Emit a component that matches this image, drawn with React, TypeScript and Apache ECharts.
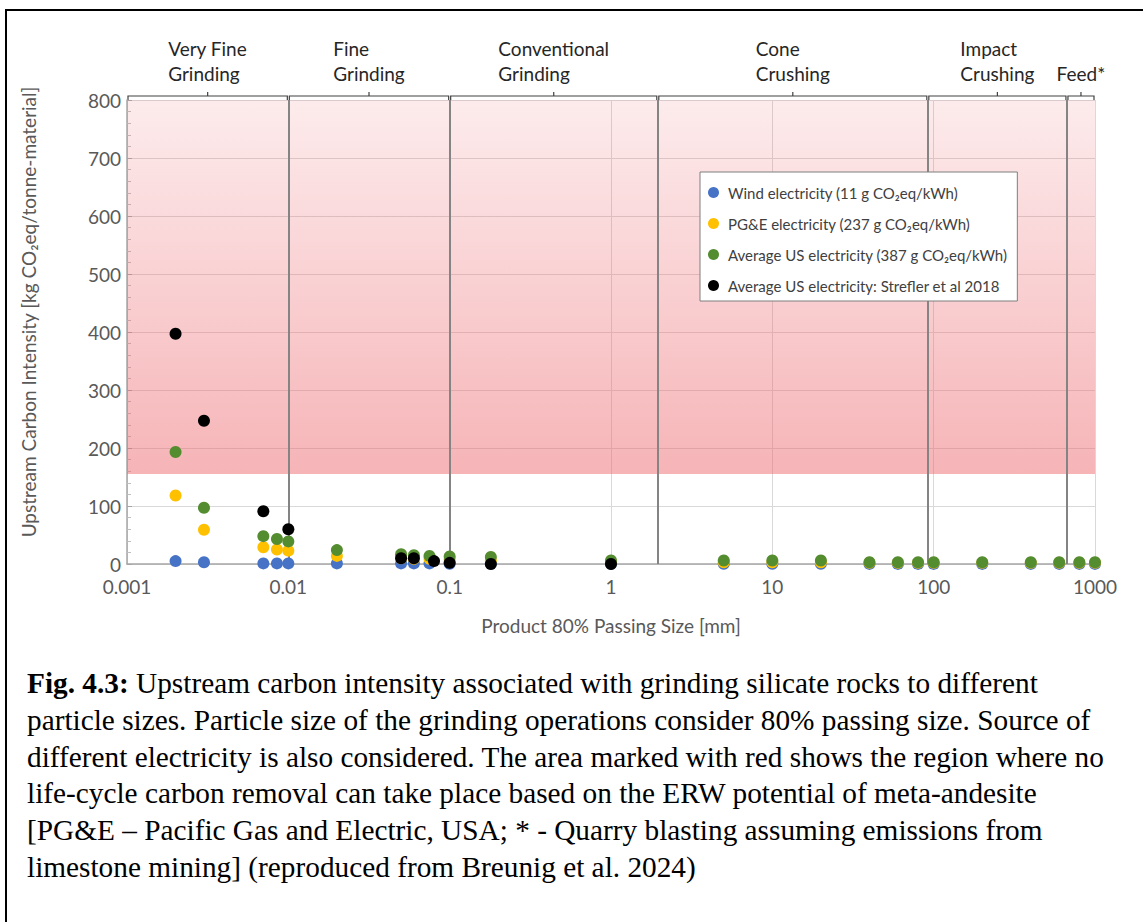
import React, { useEffect, useRef } from "react";
import * as echarts from "echarts";

// Product 80% passing size [mm] for the three electricity scenarios
const sizeMm = [0.002, 0.003, 0.007, 0.0085, 0.01, 0.02, 0.05, 0.06, 0.075, 0.1, 0.18, 1, 5, 10, 20, 40, 60, 80, 100, 200, 400, 600, 800, 1000];
// Upstream carbon intensity [kg CO2eq / tonne material]
const windIntensity = [5, 3, 1, 1, 1, 1, 1, 1, 1, 0.5, 0.5, 0.3, 0.3, 0.3, 0.3, 0.2, 0.2, 0.2, 0.2, 0.2, 0.2, 0.2, 0.2, 0.2];
const pgeIntensity = [118, 59, 29, 25, 23, 14, 10, 9, 9, 8, 6, 3, 3, 3, 3, 2, 2, 2, 2, 2, 2, 2, 2, 2];
const usAvgIntensity = [193, 97, 48, 43, 39, 24, 17, 15, 14, 13, 12, 6, 6, 6, 6, 3, 3, 3, 3, 3, 3, 3, 3, 3];
const streflerSizeMm = [0.002, 0.003, 0.007, 0.01, 0.05, 0.06, 0.08, 0.1, 0.18, 1];
const streflerIntensity = [397, 247, 91, 60, 10, 10, 5, 2, 0, 0];

// Comminution stages along the size axis
const stageBounds = [0.001, 0.01, 0.1, 1.95, 92, 670, 1000];
const stageLabels = [
  ["Very Fine", "Grinding"],
  ["Fine", "Grinding"],
  ["Conventional", "Grinding"],
  ["Cone", "Crushing"],
  ["Impact", "Crushing"],
  ["", "Feed*"],
];

const xMin = 0.001;
const xMax = 1000;
const yMax = 800;
const yStep = 100;
// Above this intensity no life-cycle carbon removal is possible
const noRemovalFloor = 155;

const seriesNames = [
  "Wind electricity (11 g CO₂eq/kWh)",
  "PG&E electricity (237 g CO₂eq/kWh)",
  "Average US electricity (387 g CO₂eq/kWh)",
  "Average US electricity: Strefler et al 2018",
];
const seriesColors = ["#4673c5", "#ffc000", "#548c30", "#000000"];

const SANS = "Lato, 'Noto Sans', sans-serif";
const GREY_TEXT = "#595959";
const AXIS_FONT_SIZE = 19;

const captionLines = [
  "Upstream carbon intensity associated with grinding silicate rocks to different",
  "particle sizes. Particle size of the grinding operations consider 80% passing size. Source of",
  "different electricity is also considered. The area marked with red shows the region where no",
  "life-cycle carbon removal can take place based on the ERW potential of meta-andesite",
  "[PG&E – Pacific Gas and Electric, USA; * - Quarry blasting assuming emissions from",
  "limestone mining] (reproduced from Breunig et al. 2024)",
];

function pairs(xs: number[], ys: number[]) {
  return xs.map((x, i) => [x, ys[i]]);
}

function textWidth(text: string, font: string) {
  const ctx = document.createElement("canvas").getContext("2d");
  if (!ctx) return text.length * 8;
  ctx.font = font;
  return ctx.measureText(text).width;
}

function ChartView() {
  const ref = useRef<HTMLDivElement>(null);

  useEffect(() => {
    if (!ref.current) return;
    const chart = echarts.init(ref.current, undefined, { renderer: "svg" });

    const scatter = (name: string, color: string, data: number[][]) => ({
      name,
      type: "scatter",
      z: 5,
      symbol: "circle",
      symbolSize: 12,
      itemStyle: { color, opacity: 1 },
      data,
    });

    chart.setOption({
      animation: false,
      textStyle: { fontFamily: SANS },
      grid: { left: 127, right: 48, top: 100, height: 464 },
      legend: {
        z: 20,
        data: seriesNames,
        orient: "vertical",
        left: 700,
        top: 172,
        padding: [12, 10, 7, 8],
        itemGap: 14,
        itemWidth: 11,
        itemHeight: 11,
        icon: "circle",
        backgroundColor: "#ffffff",
        borderColor: "#7f7f7f",
        borderWidth: 1,
        borderRadius: 0,
        textStyle: { fontFamily: SANS, fontSize: 15, color: "#404040", lineHeight: 17, padding: [0, 0, 0, 4] },
      },
      xAxis: {
        type: "log",
        logBase: 10,
        min: xMin,
        max: xMax,
        name: "Product 80% Passing Size [mm]",
        nameLocation: "middle",
        nameGap: 52,
        nameTextStyle: { fontFamily: SANS, fontSize: AXIS_FONT_SIZE, color: GREY_TEXT },
        axisLine: { lineStyle: { color: "#a6a6a6", width: 1.5 } },
        axisTick: { show: false },
        axisLabel: {
          fontFamily: SANS,
          fontSize: AXIS_FONT_SIZE,
          color: GREY_TEXT,
          margin: 13,
          formatter: (v: number) => String(+Number(v).toPrecision(6)),
        },
        splitLine: { show: true, lineStyle: { color: "#d9d9d9", width: 1 } },
      },
      yAxis: {
        type: "value",
        min: 0,
        max: yMax,
        interval: yStep,
        axisLine: { show: true, lineStyle: { color: "#a6a6a6", width: 1.5 } },
        axisTick: { show: true, inside: true, length: 5, lineStyle: { color: "#a6a6a6" } },
        minorTick: { show: true, splitNumber: 5, length: 4, lineStyle: { color: "#bfbfbf" } },
        axisLabel: { fontFamily: SANS, fontSize: AXIS_FONT_SIZE, color: GREY_TEXT, margin: 6 },
        splitLine: { show: true, lineStyle: { color: "#d9d9d9", width: 1 } },
      },
      series: [
        {
          name: "stages",
          type: "scatter",
          z: 1,
          silent: true,
          data: [],
          markArea: {
            silent: true,
            itemStyle: {
              color: {
                type: "linear",
                x: 0,
                y: 0,
                x2: 0,
                y2: 1,
                colorStops: [
                  { offset: 0, color: "rgba(237,105,111,0.13)" },
                  { offset: 1, color: "rgba(237,105,111,0.5)" },
                ],
              },
            },
            data: [[{ xAxis: xMin, yAxis: noRemovalFloor }, { xAxis: xMax, yAxis: yMax }]],
          },
          markLine: {
            silent: true,
            symbol: "none",
            label: { show: false },
            lineStyle: { color: "#848484", width: 2, type: "solid" },
            data: stageBounds.slice(1, -1).map((b) => ({ xAxis: b })),
          },
        },
        scatter(seriesNames[0], seriesColors[0], pairs(sizeMm, windIntensity)),
        scatter(seriesNames[1], seriesColors[1], pairs(sizeMm, pgeIntensity)),
        scatter(seriesNames[2], seriesColors[2], pairs(sizeMm, usAvgIntensity)),
        scatter(seriesNames[3], seriesColors[3], pairs(streflerSizeMm, streflerIntensity)),
      ],
    });

    // Stage brackets and their names above the plot, positioned from the x axis scale
    const px = (v: number) => chart.convertToPixel({ xAxisIndex: 0 }, v) as number;
    const top = chart.convertToPixel({ yAxisIndex: 0 }, yMax) as number;
    const bottom = chart.convertToPixel({ yAxisIndex: 0 }, 0) as number;
    const by = top - 4;
    const headFont = `19px ${SANS}`;
    const elements: any[] = [];
    const bracketStyle = { stroke: "#404040", lineWidth: 1.2 };
    for (let i = 0; i < stageBounds.length - 1; i++) {
      const x0 = px(stageBounds[i]);
      const x1 = px(stageBounds[i + 1]);
      const xc = (x0 + x1) / 2;
      elements.push(
        { type: "polyline", silent: true, shape: { points: [[x0 + 1, top], [x0 + 1, by], [x1 - 1, by], [x1 - 1, top]] }, style: { ...bracketStyle, fill: null } },
        { type: "line", silent: true, shape: { x1: xc, y1: by, x2: xc, y2: by - 4 }, style: bracketStyle }
      );
      const lines = stageLabels[i];
      const w = Math.max(...lines.map((t) => textWidth(t, headFont)));
      lines.forEach((t, j) => {
        if (!t) return;
        elements.push({
          type: "text",
          silent: true,
          x: xc - w / 2,
          y: top - 52 + j * 25,
          style: { text: t, font: headFont, fill: "#262626", align: "left", verticalAlign: "middle" },
        });
      });
    }
    elements.push({
      type: "text",
      silent: true,
      x: 28,
      y: (top + bottom) / 2 - 20,
      rotation: Math.PI / 2,
      style: {
        text: "Upstream Carbon Intensity [kg CO₂eq/tonne-material]",
        font: `${AXIS_FONT_SIZE}px ${SANS}`,
        fill: GREY_TEXT,
        align: "center",
        verticalAlign: "middle",
      },
    });
    chart.setOption({ graphic: elements });

    return () => chart.dispose();
  }, []);

  return <div ref={ref} style={{ position: "absolute", left: 0, top: 0, width: 1143, height: 640 }} />;
}

export default function App() {
  return (
    <div style={{ position: "absolute", left: 0, top: 0, width: 1143, height: 922, overflow: "hidden", background: "#fff" }}>
      <div
        style={{
          position: "absolute",
          left: 5,
          top: 9,
          width: 1200,
          height: 1000,
          border: "2px solid #000",
          boxSizing: "border-box",
        }}
      />
      <ChartView />
      <div
        style={{
          position: "absolute",
          left: 27,
          top: 665,
          fontFamily: "'Liberation Serif', 'Times New Roman', serif",
          fontSize: 29.3,
          lineHeight: "36.8px",
          color: "#000",
          whiteSpace: "nowrap",
        }}
      >
        {captionLines.map((line, i) => (
          <div key={i}>
            {i === 0 ? <b>Fig. 4.3: </b> : null}
            {line}
          </div>
        ))}
      </div>
    </div>
  );
}
